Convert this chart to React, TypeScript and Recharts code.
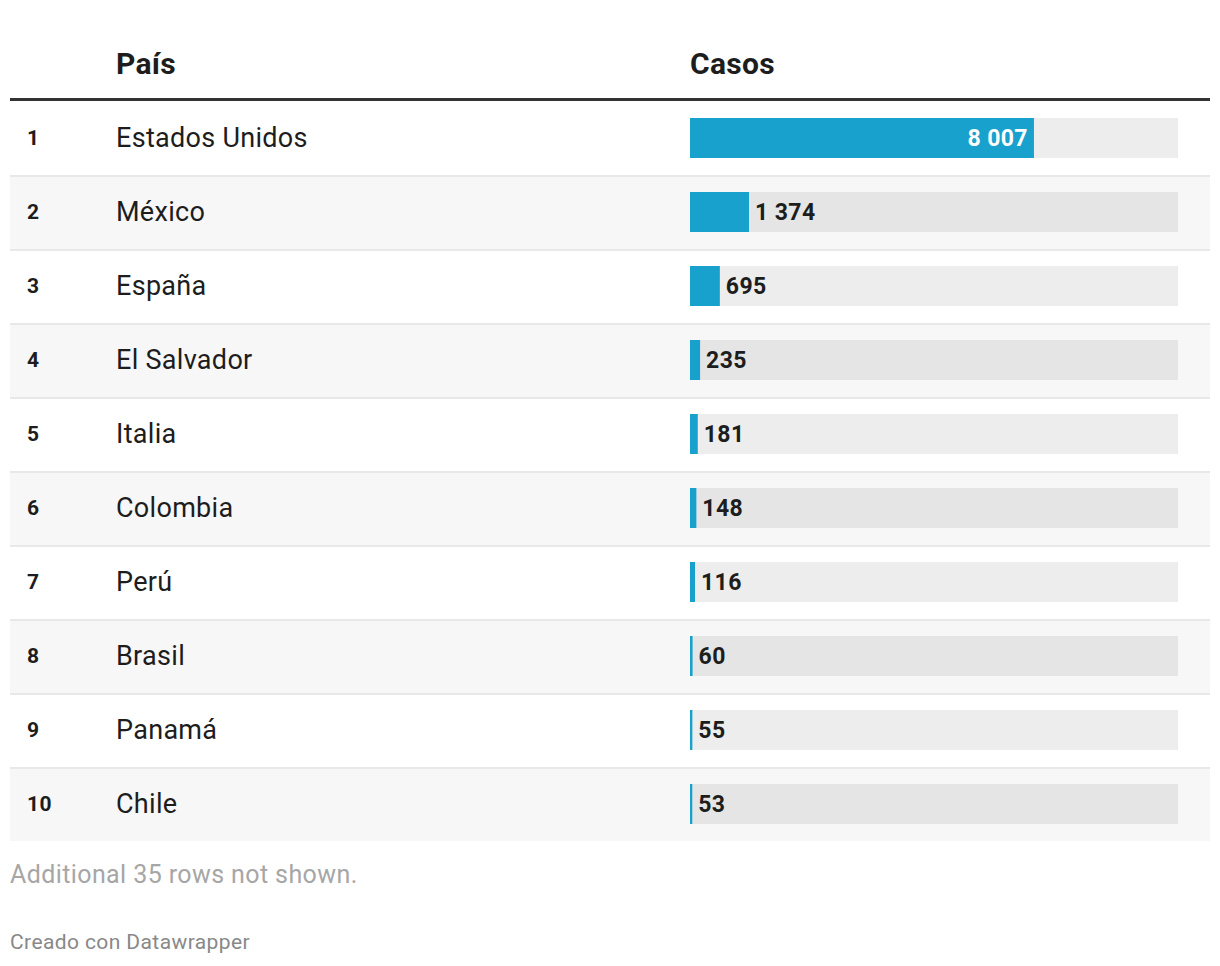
import { BarChart, Bar, XAxis, YAxis, LabelList } from 'recharts'

const ranks = ['1', '2', '3', '4', '5', '6', '7', '8', '9', '10']
const countries = ['Estados Unidos', 'México', 'España', 'El Salvador', 'Italia', 'Colombia', 'Perú', 'Brasil', 'Panamá', 'Chile']
const cases = [8007, 1374, 695, 235, 181, 148, 116, 60, 55, 53]
const DOMAIN_MAX = 11360

const BAR_COLOR = '#18a1cd'
const TEXT = '#1d1d1d'
const FONT = 'Roboto, sans-serif'
const ROW_H = 74

const data = countries.map((c, i) => ({ rank: ranks[i], country: c, cases: cases[i] }))

const fmt = (v: number) => String(v).replace(/\B(?=(\d{3})+(?!\d))/g, ' ')

function RowTick({ y, payload, index }: any) {
  const row = data[index] ?? data.find(d => d.country === payload.value)
  return (
    <g>
      <text x={17} y={y} dominantBaseline="central" fontFamily={FONT} fontSize={21} fontWeight={700} letterSpacing={0.5} fill={TEXT}>
        {row?.rank}
      </text>
      <text x={106} y={y} dominantBaseline="central" fontFamily={FONT} fontSize={27} letterSpacing={0.3} fill={TEXT}>
        {payload.value}
      </text>
    </g>
  )
}

function ValueLabel({ x, y, width, height, value }: any) {
  const inside = width > 120
  const cy = y + height / 2
  return (
    <text
      x={inside ? x + width - 6 : x + width + 6}
      y={cy}
      textAnchor={inside ? 'end' : 'start'}
      dominantBaseline="central"
      fontFamily={FONT}
      fontSize={23}
      fontWeight={700}
      letterSpacing={0.4}
      fill={inside ? '#fff' : TEXT}
    >
      {fmt(value)}
    </text>
  )
}

export default function App() {
  return (
    <div style={{ position: 'absolute', left: 0, top: 0, width: 1220, height: 966, background: '#fff', fontFamily: FONT, color: TEXT }}>
      <div style={{ position: 'absolute', left: 116, top: 44, height: 40, lineHeight: '40px', fontSize: 30, fontWeight: 700, letterSpacing: 0.3 }}>País</div>
      <div style={{ position: 'absolute', left: 690, top: 44, height: 40, lineHeight: '40px', fontSize: 30, fontWeight: 700, letterSpacing: 0.3 }}>Casos</div>
      <div style={{ position: 'absolute', left: 10, top: 98, width: 1200, height: 3, background: '#333' }} />

      {data.map((d, i) => (
        <div
          key={d.country}
          style={{
            position: 'absolute', left: 10, width: 1200,
            top: 101 + i * ROW_H, height: ROW_H, boxSizing: 'border-box',
            background: i % 2 === 1 ? '#f7f7f7' : '#fff',
            borderTop: i > 0 ? '2px solid #e8e8e8' : 'none',
          }}
        />
      ))}

      <div style={{ position: 'absolute', left: 10, top: 101 }}>
        <BarChart
          width={1200}
          height={ROW_H * data.length}
          data={data}
          layout="vertical"
          margin={{ top: 0, right: 32, bottom: 0, left: 0 }}
          barSize={40}
        >
          <XAxis type="number" domain={[0, DOMAIN_MAX]} hide />
          <YAxis
            type="category"
            dataKey="country"
            width={680}
            axisLine={false}
            tickLine={false}
            interval={0}
            tick={<RowTick />}
          />
          <Bar dataKey="cases" fill={BAR_COLOR} background={{ fill: 'rgba(0,0,0,0.07)' }} isAnimationActive={false}>
            <LabelList dataKey="cases" content={<ValueLabel />} />
          </Bar>
        </BarChart>
      </div>

      <div style={{ position: 'absolute', left: 10, top: 860, height: 30, lineHeight: '30px', fontSize: 25, letterSpacing: 0.4, color: '#a6a6a6' }}>
        Additional 35 rows not shown.
      </div>
      <div style={{ position: 'absolute', left: 10, top: 930, height: 24, lineHeight: '24px', fontSize: 21, letterSpacing: 0.4, color: '#888' }}>
        Creado con Datawrapper
      </div>
    </div>
  )
}
